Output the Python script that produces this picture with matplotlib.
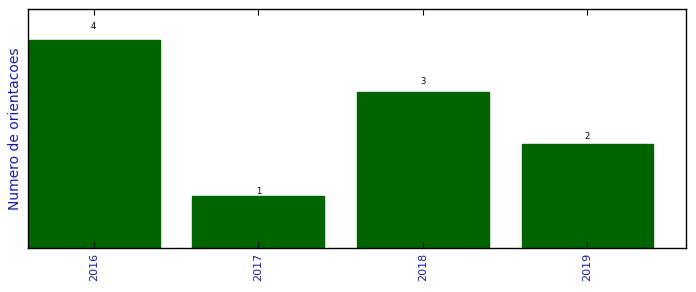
import numpy as np
import matplotlib
matplotlib.use('Agg')
import matplotlib.pyplot as plt

# dados
anos = ['2016', '2017', '2018', '2019']
orientacoes = [4, 1, 3, 2]

fig = plt.figure(figsize=(6.96, 2.92), dpi=100)
ax = fig.add_axes([0.040, 0.151, 0.946, 0.818])

x = np.arange(len(anos))
ax.bar(x, orientacoes, width=0.8, color='#006400', edgecolor='#006400')

# rotulos acima das barras
for a, b in zip(x, orientacoes):
    ax.text(a, b * 1.06 + 0.03, str(b), ha='center', va='center', fontsize=6)

ax.set_xlim(-0.4, 3.6)
ax.set_ylim(0, max(orientacoes) * 1.15)
ax.set_xticks(x)
ax.set_xticklabels(anos, rotation=90, fontsize=8, color='#1a1aa0')
ax.set_yticks([])
ax.tick_params(axis='x', direction='in', top=True, length=4)
ax.set_ylabel('Numero de orientacoes', color='#1a1aa0', fontsize=10)
for s in ax.spines.values():
    s.set_linewidth(1.0)

fig.savefig('out.png', dpi=100)
